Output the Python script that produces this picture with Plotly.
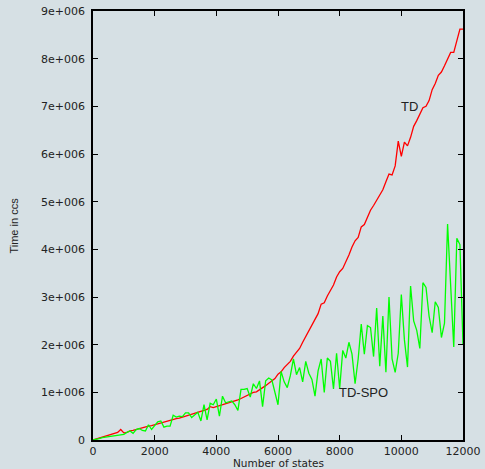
import plotly.graph_objects as go

states = list(range(0, 12001, 100))

td = [
    0.00, 0.02, 0.04, 0.06, 0.08, 0.10, 0.12, 0.14, 0.16, 0.22,
    0.15, 0.16, 0.19, 0.20, 0.22, 0.24, 0.25, 0.27, 0.29, 0.30,
    0.32, 0.34, 0.36, 0.37, 0.39, 0.41, 0.43, 0.45, 0.46, 0.48,
    0.50, 0.52, 0.54, 0.56, 0.58, 0.60, 0.62, 0.64, 0.70, 0.68,
    0.70, 0.72, 0.74, 0.75, 0.77, 0.79, 0.81, 0.84, 0.87, 0.90,
    0.93, 0.97, 1.00, 1.01, 1.05, 1.09, 1.14, 1.19, 1.24, 1.29,
    1.38, 1.43, 1.52, 1.58, 1.65, 1.76, 1.83, 1.92, 2.05, 2.17,
    2.27, 2.40, 2.52, 2.65, 2.85, 2.88, 3.02, 3.13, 3.25, 3.42,
    3.53, 3.60, 3.73, 3.88, 4.05, 4.18, 4.25, 4.47, 4.52, 4.66,
    4.82, 4.92, 5.03, 5.16, 5.25, 5.42, 5.58, 5.56, 5.75, 6.27,
    5.95, 6.25, 6.17, 6.35, 6.58, 6.70, 6.83, 6.97, 7.00, 7.12,
    7.35, 7.48, 7.65, 7.72, 7.85, 7.98, 8.13, 8.13, 8.38, 8.62,
    8.62,
]

td_spo = [
    0.00, 0.01, 0.03, 0.05, 0.06, 0.07, 0.08, 0.09, 0.10, 0.11,
    0.12, 0.16, 0.19, 0.14, 0.22, 0.24, 0.20, 0.19, 0.32, 0.22,
    0.30, 0.38, 0.40, 0.27, 0.29, 0.29, 0.52, 0.48, 0.50, 0.49,
    0.57, 0.57, 0.47, 0.52, 0.58, 0.40, 0.74, 0.42, 0.77, 0.74,
    0.86, 0.50, 0.92, 0.78, 0.80, 0.82, 0.74, 0.62, 1.06, 1.06,
    1.08, 0.90, 1.18, 1.08, 1.24, 0.70, 1.24, 1.30, 1.26, 1.00,
    0.74, 1.44, 1.22, 1.10, 1.35, 1.70, 1.37, 1.52, 1.22, 1.65,
    1.40, 1.27, 0.92, 1.45, 1.70, 1.00, 1.72, 1.65, 1.07, 1.82,
    1.08, 1.88, 1.72, 2.05, 1.80, 1.18, 1.70, 2.43, 1.80, 2.40,
    2.36, 1.75, 2.77, 1.55, 2.60, 1.42, 3.00, 1.70, 1.42, 1.82,
    3.05, 2.10, 1.53, 3.23, 2.50, 2.30, 1.92, 3.30, 3.20, 2.60,
    2.25, 2.90, 2.78, 2.15, 2.45, 4.53, 3.20, 1.95, 4.23, 4.10,
    2.00,
]

y_tickvals = [0, 1e6, 2e6, 3e6, 4e6, 5e6, 6e6, 7e6, 8e6, 9e6]
y_ticktext = ["0", "1e+006", "2e+006", "3e+006", "4e+006", "5e+006",
              "6e+006", "7e+006", "8e+006", "9e+006"]
x_tickvals = [0, 2000, 4000, 6000, 8000, 10000, 12000]

BG = "#d6e0e4"
FONT = "DejaVu Sans"

fig = go.Figure()
fig.add_trace(go.Scatter(x=states, y=[v * 1e6 for v in td], mode="lines",
                         line=dict(color="#ff0000", width=1.3), name="TD"))
fig.add_trace(go.Scatter(x=states, y=[v * 1e6 for v in td_spo], mode="lines",
                         line=dict(color="#00ff00", width=1.3), name="TD-SPO"))

axis_common = dict(showgrid=False, zeroline=False, showline=True, linecolor="black",
                   linewidth=1.5, mirror="ticks", ticks="inside", ticklen=5,
                   tickcolor="black", tickwidth=1, automargin=False,
                   tickfont=dict(family=FONT, size=11, color="#222"))

fig.update_xaxes(range=[0, 12000], tickvals=x_tickvals,
                 ticktext=[str(v) for v in x_tickvals], ticklabelstandoff=0,
                 **axis_common)
fig.update_yaxes(range=[0, 9e6], tickvals=y_tickvals, ticktext=y_ticktext,
                 ticklabelstandoff=4, **axis_common)

fig.add_annotation(x=10270, y=7.0e6, text="TD", showarrow=False,
                   font=dict(family="Liberation Sans", size=13, color="#222"))
fig.add_annotation(x=8780, y=0.99e6, text="TD-SPO", showarrow=False,
                   font=dict(family="Liberation Sans", size=13, color="#222"))
fig.add_annotation(xref="paper", yref="paper", x=0.5, y=-0.0536,
                   text="Number of states", showarrow=False,
                   xanchor="center", yanchor="middle",
                   font=dict(family=FONT, size=10.5, color="#222"))
fig.add_annotation(xref="paper", yref="paper", x=-0.216, y=0.5,
                   text="Time in ccs", showarrow=False, textangle=-90,
                   xanchor="center", yanchor="middle",
                   font=dict(family="Liberation Sans Narrow, Liberation Sans", size=11, color="#222"))

fig.update_layout(width=485, height=469, margin=dict(l=93, r=22, t=11, b=29),
                  paper_bgcolor=BG, plot_bgcolor=BG, showlegend=False)

fig.write_html(
    "out.html",
    config={"displayModeBar": False},
    post_script=(
        "document.body.style.margin='0';"
        "document.body.style.padding='0';"
        "document.body.style.overflow='hidden';"
        "document.body.style.background='" + BG + "';"
    ),
)
